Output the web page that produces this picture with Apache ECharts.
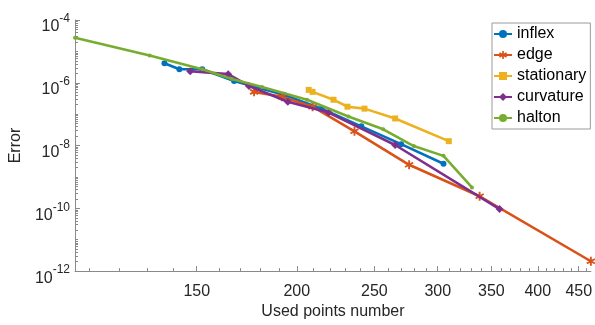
<!DOCTYPE html>
<html>
<head>
<meta charset="utf-8">
<script src="https://cdn.jsdelivr.net/npm/echarts@6/dist/echarts.min.js"></script>
<style>html,body{margin:0;padding:0;background:#fff}#c{width:595px;height:325px}</style>
</head>
<body>
<div id="c"></div>
<script>
// ---- data ----
const seriesNames = ['inflex', 'edge', 'stationary', 'curvature', 'halton'];
const inflexX = [136.7, 142.7, 152.4, 167, 192.6, 214.8, 240.8, 270, 305];
const inflexY = [4.17e-6, 2.70e-6, 2.70e-6, 1.135e-6, 4.13e-7, 1.50e-7, 4.09e-8, 1.11e-8, 2.63e-9];
const edgeX = [176.9, 191.6, 209.3, 236.1, 276.3, 338.4, 466];
const edgeY = [5.13e-7, 3.57e-7, 1.73e-7, 2.85e-8, 2.44e-9, 2.42e-10, 2.06e-12];
const stationaryX = [207, 209.3, 222.3, 231.4, 243, 265.4, 309.7];
const stationaryY = [5.93e-7, 5.13e-7, 2.88e-7, 1.73e-7, 1.50e-7, 7.30e-8, 1.38e-8];
const curvatureX = [147.2, 164.2, 174.3, 194.9, 219.2, 265.4, 358.4];
const curvatureY = [2.34e-6, 1.88e-6, 7.91e-7, 2.49e-7, 1.12e-7, 1.04e-8, 9.46e-11];
const haltonX = [105.7, 131, 152.4, 166, 181, 206, 232, 256.5, 280, 305, 331];
const haltonY = [2.72e-5, 7.43e-6, 2.70e-6, 1.31e-6, 7.36e-7, 2.88e-7, 8.42e-8, 3.29e-8, 9.64e-9, 4.69e-9, 4.65e-10];

const xMin = 105.7, xMax = 466;
const yMin = 1e-12, yMax = 1e-4;
const xTickLabels = [150, 200, 250, 300, 350, 400, 450];
const xMinorTicks = [110, 120, 130, 140, 150, 160, 170, 180, 190, 200, 210, 220, 230, 240, 250, 260, 270, 280, 290, 300, 310, 320, 330, 340, 350, 360, 370, 380, 390, 400, 410, 420, 430, 440, 450, 460];
const yTickLabels = [1e-12, 1e-10, 1e-8, 1e-6, 1e-4];
const yMinorTicks = [];
for (let d = -12; d < -4; d++) for (let k = 1; k <= 9; k++) yMinorTicks.push(Number((k + 'e' + d)));
yMinorTicks.push(1e-4);

const colors = ['#0072BD', '#D95319', '#EDB120', '#7E2F8E', '#77AC30'];
const asterisk = 'path://M-1,-5L1,-5L1,5L-1,5Z M-4.83,-1.63L-3.83,-3.37L4.83,1.63L3.83,3.37Z M3.83,-3.37L4.83,-1.63L-3.83,3.37L-4.83,1.63Z';
const symbols = ['circle', asterisk, 'rect', 'diamond', 'circle'];
const symbolSizes = [6, 9, 6, 8, 4];
const xs = [inflexX, edgeX, stationaryX, curvatureX, haltonX];
const ys = [inflexY, edgeY, stationaryY, curvatureY, haltonY];

const txt = '#262626';
const axisCol = '#8a8a8a';
const font = 'Liberation Sans, Arial, sans-serif';

const chart = echarts.init(document.getElementById('c'), null, {renderer: 'canvas'});
const series = seriesNames.map((n, i) => ({
  name: n, type: 'line', xAxisIndex: 0, yAxisIndex: 0,
  data: xs[i].map((x, j) => [x, ys[i][j]]),
  symbol: symbols[i], symbolSize: symbolSizes[i], showSymbol: true,
  lineStyle: {color: colors[i], width: 2.6},
  itemStyle: {color: colors[i]},
  z: 2 + i,
  animation: false
}));

chart.setOption({
  animation: false,
  textStyle: {fontFamily: font},
  grid: {left: 72, right: 4, top: 20, bottom: 50, containLabel: false},
  legend: {
    orient: 'vertical', left: 492, top: 23,
    padding: [3, 4, 3, 1], itemGap: 5, itemWidth: 18, itemHeight: 10,
    backgroundColor: '#fff', borderColor: '#9a9a9a', borderWidth: 1, borderRadius: 0,
    textStyle: {fontSize: 16, color: '#000', fontFamily: font},
    data: seriesNames
  },
  xAxis: [{
    type: 'log', min: xMin, max: xMax,
    name: 'Used points number', nameLocation: 'middle', nameGap: 30,
    nameTextStyle: {fontSize: 16, color: txt, fontFamily: font},
    axisLine: {show: true, lineStyle: {color: axisCol, width: 1}},
    axisTick: {show: true, inside: true, length: 5, customValues: xTickLabels, lineStyle: {color: axisCol}},
    axisLabel: {customValues: xTickLabels, fontSize: 16, color: txt, margin: 12, formatter: v => String(Math.round(v))},
    splitLine: {show: false}, minorTick: {show: false}
  }, {
    type: 'log', min: xMin, max: xMax, position: 'bottom',
    axisLine: {show: false},
    axisTick: {show: true, inside: true, length: 3, customValues: xMinorTicks, lineStyle: {color: axisCol}},
    axisLabel: {show: false}, splitLine: {show: false}
  }],
  yAxis: [{
    type: 'log', min: yMin, max: yMax,
    name: 'Error', nameLocation: 'middle', nameGap: 46,
    nameTextStyle: {fontSize: 16, color: txt, fontFamily: font},
    axisLine: {show: true, lineStyle: {color: axisCol, width: 1}},
    axisTick: {show: true, inside: true, length: 5, customValues: yTickLabels, lineStyle: {color: axisCol}},
    axisLabel: {
      customValues: yTickLabels, margin: 5, color: txt, padding: [8, 0, 0, 0],
      formatter: v => '{b|10}{s|' + Math.round(Math.log10(v)) + '}',
      rich: {
        b: {fontSize: 16, color: txt, fontFamily: font, verticalAlign: 'bottom', lineHeight: 22},
        s: {fontSize: 12, color: txt, fontFamily: font, verticalAlign: 'top', lineHeight: 22}
      }
    },
    splitLine: {show: false}
  }, {
    type: 'log', min: yMin, max: yMax, position: 'left',
    axisLine: {show: false},
    axisTick: {show: true, inside: true, length: 3, customValues: yMinorTicks, lineStyle: {color: axisCol}},
    axisLabel: {show: false}, splitLine: {show: false}
  }],
  series: series
});
</script>
</body>
</html>
